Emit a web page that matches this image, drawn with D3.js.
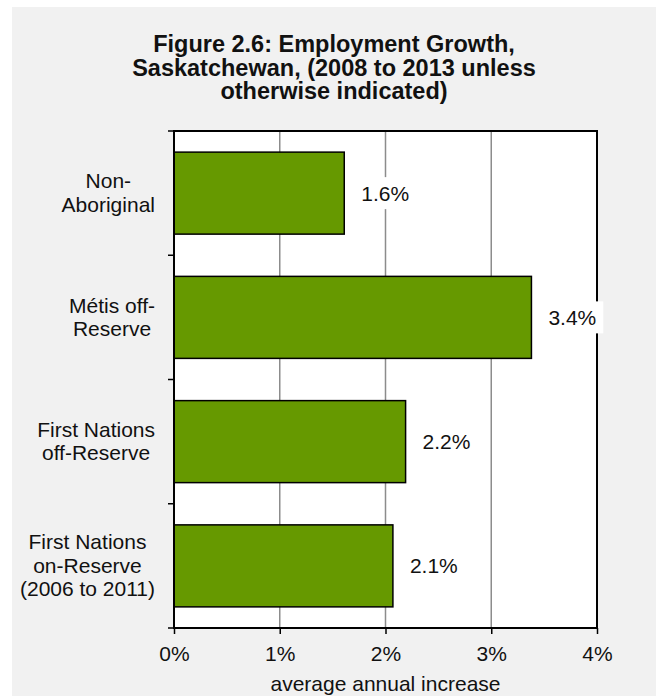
<!DOCTYPE html>
<html>
<head>
<meta charset="utf-8">
<script src="https://cdn.jsdelivr.net/npm/d3@7"></script>
<style>
  html, body { margin: 0; padding: 0; background: #ffffff; }
  svg { display: block; font-family: "Liberation Sans", Arial, sans-serif; }
</style>
</head>
<body>
<svg id="chart" width="656" height="696"></svg>
<script>
// Employment growth by group, average annual increase (%)
const categories = [
  ["Non-", "Aboriginal"],
  ["Métis off-", "Reserve"],
  ["First Nations", "off-Reserve"],
  ["First Nations", "on-Reserve", "(2006 to 2011)"]
];
const values = [1.61, 3.38, 2.19, 2.07];
const valueLabels = ["1.6%", "3.4%", "2.2%", "2.1%"];
const xTicks = [0, 1, 2, 3, 4];
const titleLines = [
  "Figure 2.6: Employment Growth,",
  "Saskatchewan, (2008 to 2013 unless",
  "otherwise indicated)"
];
const xAxisTitle = "average annual increase";

const FS = 21;
const svg = d3.select("#chart");

// panel background
svg.append("rect")
  .attr("x", 12).attr("y", 7)
  .attr("width", 656 - 12).attr("height", 696 - 7)
  .attr("fill", "#f1f1f1");

const plot = { left: 174, right: 597, top: 131, bottom: 628 };

const x = d3.scaleLinear().domain([0, 4]).range([plot.left, plot.right]);
const keys = categories.map((c, i) => i);
const y = d3.scaleBand().domain(keys).range([plot.top, plot.bottom]).paddingInner(0.34).paddingOuter(0.17);
const yOuter = d3.scaleBand().domain(keys).range([plot.top, plot.bottom]);

// title
const title = svg.append("text")
  .attr("text-anchor", "middle")
  .attr("font-weight", "bold")
  .attr("font-size", 23.5)
  .attr("fill", "#111");
titleLines.forEach((t, i) => {
  title.append("tspan").attr("x", 334).attr("y", 52 + i * 23.5).text(t);
});

// plot area
svg.append("rect")
  .attr("x", plot.left).attr("y", plot.top)
  .attr("width", plot.right - plot.left).attr("height", plot.bottom - plot.top)
  .attr("fill", "#ffffff");

// vertical gridlines
svg.append("g")
  .selectAll("line")
  .data(xTicks.slice(1, -1))
  .join("line")
  .attr("x1", d => x(d)).attr("x2", d => x(d))
  .attr("y1", plot.top).attr("y2", plot.bottom)
  .attr("stroke", "#8c8c8c")
  .attr("stroke-width", 1.5);

// bars
svg.append("g")
  .selectAll("rect")
  .data(values)
  .join("rect")
  .attr("x", x(0))
  .attr("y", (d, i) => y(i))
  .attr("width", d => x(d) - x(0))
  .attr("height", y.bandwidth())
  .attr("fill", "#669900")
  .attr("stroke", "#000")
  .attr("stroke-width", 1.5);

// plot frame
svg.append("rect")
  .attr("x", plot.left).attr("y", plot.top)
  .attr("width", plot.right - plot.left).attr("height", plot.bottom - plot.top)
  .attr("fill", "none")
  .attr("stroke", "#000")
  .attr("stroke-width", 2);

// x axis
const xAxis = svg.append("g")
  .attr("transform", `translate(0,${plot.bottom})`)
  .call(d3.axisBottom(x).tickValues(xTicks).tickFormat(d => d + "%").tickSize(6).tickPadding(12).tickSizeOuter(0));
xAxis.select(".domain").remove();
xAxis.selectAll(".tick line").attr("stroke", "#000").attr("stroke-width", 1.5);
xAxis.selectAll(".tick text")
  .attr("font-size", FS)
  .attr("font-family", "Liberation Sans, Arial, sans-serif")
  .attr("fill", "#111");

// y axis tick marks at category boundaries
const yBounds = keys.map(i => yOuter(i)).concat([plot.bottom]);
svg.append("g")
  .selectAll("line")
  .data(yBounds)
  .join("line")
  .attr("x1", plot.left - 6).attr("x2", plot.left)
  .attr("y1", d => d).attr("y2", d => d)
  .attr("stroke", "#000")
  .attr("stroke-width", 1.5);

// category labels: right-aligned block, lines centred within it
const catG = svg.append("g")
  .attr("font-size", FS)
  .attr("fill", "#111");
categories.forEach((lines, i) => {
  const t = catG.append("text").attr("text-anchor", "middle");
  const cy = y(i) + y.bandwidth() / 2;
  const lh = 23.5;
  const startY = cy - (lines.length - 1) * lh / 2 + 7;
  lines.forEach((ln, j) => {
    t.append("tspan").attr("x", 0).attr("y", startY + j * lh).text(ln);
  });
  // widest line sets the block; its right edge sits at 155
  const w = d3.max(t.selectAll("tspan").nodes(), n => n.getComputedTextLength());
  t.selectAll("tspan").attr("x", 155 - w / 2);
});

// value labels with white backing
const lblG = svg.append("g");
values.forEach((v, i) => {
  const cy = y(i) + y.bandwidth() / 2;
  const g = lblG.append("g");
  const t = g.append("text")
    .attr("x", x(v) + 17)
    .attr("y", cy + 7.5)
    .attr("font-size", FS)
    .attr("fill", "#111")
    .text(valueLabels[i]);
  const bb = t.node().getBBox();
  g.insert("rect", "text")
    .attr("x", bb.x - 7).attr("y", cy - 16)
    .attr("width", bb.width + 14).attr("height", 32)
    .attr("fill", "#ffffff");
});

// x axis title
svg.append("text")
  .attr("x", (plot.left + plot.right) / 2)
  .attr("y", 691)
  .attr("text-anchor", "middle")
  .attr("font-size", FS)
  .attr("fill", "#111")
  .text(xAxisTitle);
</script>
</body>
</html>
